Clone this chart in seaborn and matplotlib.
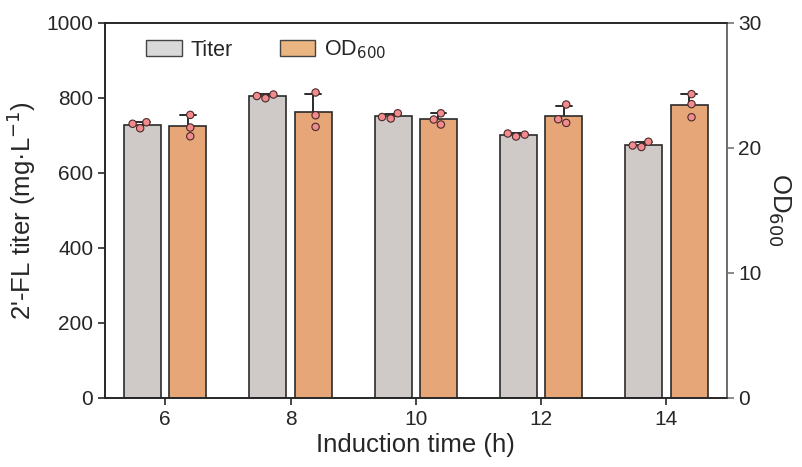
import pandas as pd
import numpy as np
import matplotlib
matplotlib.use("Agg")
import matplotlib.pyplot as plt
import seaborn as sns
from matplotlib.patches import Patch

# Data (three replicates per time point)
times = ["6", "8", "10", "12", "14"]
titer_reps = [
    [719, 735, 731],
    [799, 809, 805],
    [745, 759, 749],
    [697, 705, 702],
    [669, 683, 673],
]
od_reps = [
    [22.64, 21.63, 20.93],
    [24.43, 22.61, 21.68],
    [22.77, 21.87, 22.27],
    [23.47, 22.00, 22.29],
    [24.30, 23.50, 22.45],
]

series = ["Titer", "OD600"]
bar_colors = {"Titer": "#CFCAC7", "OD600": "#E6A678"}
legend_colors = {"Titer": "#D9D9D9", "OD600": "#EBB582"}
dot_color = "#F28B8E"

rows_t = [(t, "Titer", v) for t, reps in zip(times, titer_reps) for v in reps]
rows_o = [(t, "OD600", v) for t, reps in zip(times, od_reps) for v in reps]
df_t = pd.DataFrame(rows_t, columns=["time", "series", "value"])
df_o = pd.DataFrame(rows_o, columns=["time", "series", "value"])

sns.set_style("ticks")
plt.rcParams["font.family"] = ["Liberation Sans", "DejaVu Sans"]
plt.rcParams["axes.linewidth"] = 1.2

fig = plt.figure(figsize=(8.02, 4.67), dpi=100)
ax = fig.add_axes([0.131, 0.148, 0.775, 0.803])
ax2 = ax.twinx()

common = dict(x="time", y="value", hue="series", hue_order=series, order=times,
              palette=bar_colors, width=0.72, gap=0.18, dodge=True, errorbar="sd",
              capsize=0.25, edgecolor="#2b2b2b", linewidth=1.2, saturation=1,
              err_kws={"color": "#2b2b2b", "linewidth": 1.4, "zorder": 0.9},
              legend=False)
sns.barplot(data=df_t, ax=ax, **common)
sns.barplot(data=df_o, ax=ax2, **common)

pts = dict(x="time", y="value", hue="series", hue_order=series, order=times,
           palette={"Titer": dot_color, "OD600": dot_color}, dodge=True,
           size=5.3, edgecolor="#4a2a2a", linewidth=0.8, legend=False)
sns.swarmplot(data=df_t, ax=ax, zorder=3, **pts)
sns.swarmplot(data=df_o, ax=ax2, zorder=3, **pts)

for a in (ax, ax2):
    a.set_xlim(-0.48, 4.48)
ax.set_ylim(0, 1000)
ax2.set_ylim(0, 30)
ax.set_yticks(np.arange(0, 1001, 200))
ax2.set_yticks([0, 10, 20, 30])

ax.set_xlabel("Induction time (h)", fontsize=18.5, labelpad=3)
ax.set_ylabel("2'-FL titer (mg·L$^{-1}$)", fontsize=18.5, labelpad=6)
ax2.set_ylabel("OD$_{600}$", fontsize=18.5, rotation=270, labelpad=22)

ax.tick_params(labelsize=15, length=5, width=1.2, direction="out")
ax2.tick_params(labelsize=15, length=5, width=1.2, direction="out", color="#777777")
ax2.spines["right"].set_color("#777777")
for a in (ax, ax2):
    a.spines["top"].set_visible(True)
    a.spines["right"].set_visible(True)

handles = [Patch(facecolor=legend_colors[s], edgecolor="#444444", linewidth=1.0) for s in series]
ax.legend(handles, ["Titer", "OD$_{600}$"], loc="upper left", ncol=2, frameon=False,
          fontsize=15.5, bbox_to_anchor=(0.035, 1.01), handlelength=1.65, handleheight=0.75,
          columnspacing=2.2, handletextpad=0.4)

fig.savefig("out.png", dpi=100)
